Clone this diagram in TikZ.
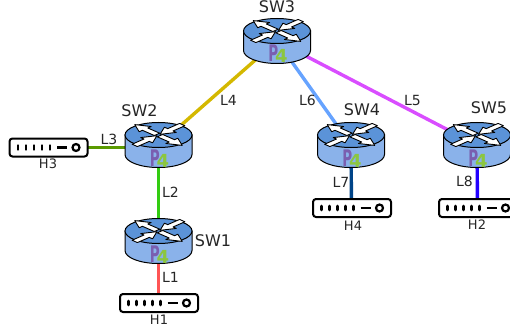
\documentclass[tikz,border=0pt]{standalone}
\usepackage{fontspec}
\setmainfont{DejaVu Sans}
\definecolor{swtop}{HTML}{5B93D8}
\definecolor{swside}{HTML}{8AB2EA}
\definecolor{pfpurple}{HTML}{7A5FB0}
\definecolor{pfgreen}{HTML}{8CC63F}
\tikzset{
  anchorbox/.style={inner sep=0pt,minimum size=0pt},
  swlabel/.style={font=\fontsize{16}{16}\selectfont,text=black!85,inner sep=0pt},
  linklabel/.style={font=\fontsize{14}{14}\selectfont,text=black!85,inner sep=0pt},
  hostlabel/.style={font=\fontsize{13}{13}\selectfont,text=black!85,inner sep=0pt},
  link/.style={line width=3.4pt},
  swline/.style={draw=black,line width=1pt},
  arroww/.style={fill=white,draw=black,line width=.9pt,line join=round},
  pics/switchbody/.style={code={
    \path[swline,fill=swside] (-33.5,-10) -- (-33.5,9.5) arc[start angle=180,end angle=0,x radius=33.5,y radius=13] -- (33.5,-10) -- cycle;
    \path[swline,fill=swtop] (0,-10) ellipse[x radius=33.5,y radius=12.5];
    \foreach \a/\s in {-45/2,135/2,45/-32,225/-32}{
      \path[arroww,shift={(0,-10)},xscale=1.05,yscale=.46,rotate=\a,shift={(\s,0)}]
        (0,-3.6) -- (16,-3.6) -- (16,-8) -- (30,0) -- (16,8) -- (16,3.6) -- (0,3.6) -- cycle;
    }
    \node[inner sep=0pt,anchor=base,font=\fontsize{18}{18}\bfseries\selectfont] at (1,21) {\textcolor{pfpurple}{\scalebox{.75}[1.27]{P}}\kern-3pt\raisebox{-1pt}{\textcolor{pfgreen}{4}}};
  }},
  pics/hostbody/.style={code={
    \path[draw=black,line width=2pt,rounded corners=3pt,fill=white] (-38.5,-9) rectangle (39.5,9);
    \foreach \x in {-30,-22,-14,-6,2}{
      \path[draw=black,line width=2.8pt,line cap=round] (\x,-2) -- (\x,2);
    }
    \path[draw=black,line width=2.4pt] (9,0) -- (19,0);
    \path[draw=black,line width=2.2pt,fill=white] (28,0) circle[radius=3.5];
  }},
}
\begin{document}
\begin{tikzpicture}[x=1pt,y=-1pt]
\useasboundingbox (0,0) rectangle (510,331);
\clip (0,0) rectangle (510,331);
% anchors
\node[anchorbox] (SW3) at (277,41) {};
\node[anchorbox] (SW2) at (158.5,145) {};
\node[anchorbox] (SW1) at (158.5,241) {};
\node[anchorbox] (SW4) at (351,145) {};
\node[anchorbox] (SW5) at (477,145) {};
\node[anchorbox] (H3) at (48,147.5) {};
\node[anchorbox] (H1) at (158.5,303) {};
\node[anchorbox] (H4) at (351.5,208) {};
\node[anchorbox] (H2) at (477.5,208) {};
% links
\draw[link,draw={rgb,255:red,212;green,184;blue,0}] (SW3) -- (SW2);
\draw[link,draw={rgb,255:red,102;green,163;blue,255}] (SW3) -- (SW4);
\draw[link,draw={rgb,255:red,217;green,77;blue,255}] (SW3) -- (SW5);
\draw[link,draw={rgb,255:red,90;green,154;blue,0}] (H3) -- (H3 -| SW2);
\draw[link,draw={rgb,255:red,51;green,204;blue,17}] (SW2) -- (SW1);
\draw[link,draw={rgb,255:red,255;green,85;blue,85}] (SW1) -- (H1);
\draw[link,draw={rgb,255:red,0;green,68;blue,136}] (SW4) -- (H4);
\draw[link,draw={rgb,255:red,34;green,0;blue,255}] (SW5) -- (H2);
% devices
\foreach \n in {SW1,SW2,SW3,SW4,SW5} { \pic at (\n) {switchbody}; }
\foreach \n in {H1,H2,H3,H4} { \pic at (\n) {hostbody}; }
% labels
\node[swlabel] (tSW3) at (277,7) {SW3};
\node[swlabel] (tSW2) at (139.5,110.5) {SW2};
\node[swlabel] (tSW1) at (213,240.5) {SW1};
\node[swlabel] (tSW4) at (362,110) {SW4};
\node[swlabel] (tSW5) at (489,108) {SW5};
\node[linklabel] (tL1) at (170.5,277) {L1};
\node[linklabel] (tL2) at (170.5,192) {L2};
\node[linklabel] (tL3) at (109,139) {L3};
\node[linklabel] (tL4) at (228.5,100) {L4};
\node[linklabel] (tL5) at (412.5,100) {L5};
\node[linklabel] (tL6) at (307.5,100) {L6};
\node[linklabel] (tL7) at (341,182) {L7};
\node[linklabel] (tL8) at (464.5,181) {L8};
\node[hostlabel] (tH1) at (159,320) {H1};
\node[hostlabel] (tH2) at (477,225) {H2};
\node[hostlabel] (tH3) at (48,164) {H3};
\node[hostlabel] (tH4) at (353,226) {H4};
\end{tikzpicture}
\end{document}
